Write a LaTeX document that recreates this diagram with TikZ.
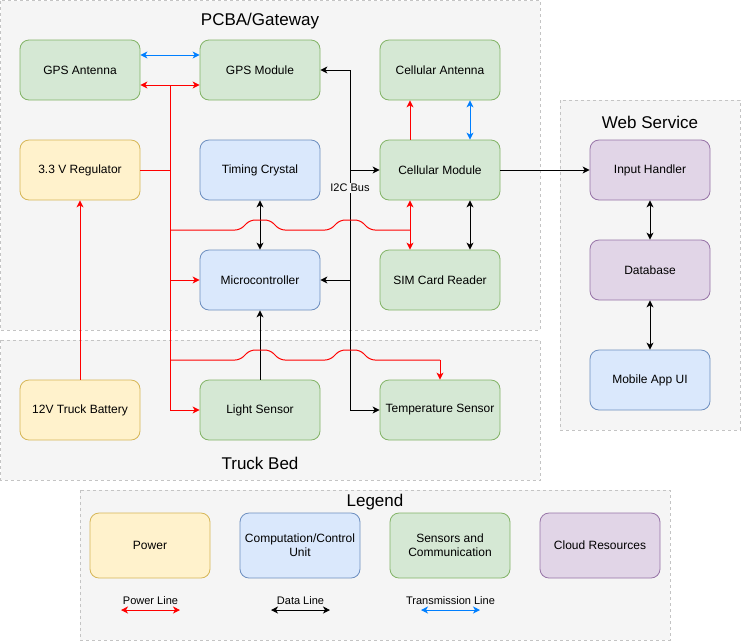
\documentclass[tikz,border=0pt]{standalone}
\usepackage{fontspec}
\setmainfont{Liberation Sans}
\usetikzlibrary{arrows.meta}
\definecolor{gfill}{HTML}{D5E8D4}\definecolor{gline}{HTML}{82B366}
\definecolor{yfill}{HTML}{FFF2CC}\definecolor{yline}{HTML}{D6B656}
\definecolor{bfill}{HTML}{DAE8FC}\definecolor{bline}{HTML}{6C8EBF}
\definecolor{pfill}{HTML}{E1D5E7}\definecolor{pline}{HTML}{9673A6}
\definecolor{cfill}{HTML}{F5F5F5}\definecolor{cline}{HTML}{C4C4C4}
\definecolor{redl}{HTML}{FF0000}\definecolor{bluel}{HTML}{007FFF}
\tikzset{
  tip/.tip={Stealth[length=7pt,width=7pt,inset=2pt]},
  box/.style={draw, rounded corners=9pt, minimum width=120pt, minimum height=60pt,
    line width=0.8pt, align=center, font=\fontsize{12}{14}\selectfont, inner sep=2pt},
  gbox/.style={box, fill=gfill, draw=gline},
  ybox/.style={box, fill=yfill, draw=yline},
  bbox/.style={box, fill=bfill, draw=bline},
  pbox/.style={box, fill=pfill, draw=pline},
  container/.style={fill=cfill, draw=cline, dash pattern=on 3pt off 3pt, line width=0.8pt},
  title/.style={font=\fontsize{17}{20}\selectfont, inner sep=0pt},
  pwr/.style={draw=redl, line width=1pt},
  dat/.style={draw=black, line width=1pt},
  trn/.style={draw=bluel, line width=1pt},
  small/.style={font=\fontsize{11}{13}\selectfont, inner sep=1pt},
}
\begin{document}
\begin{tikzpicture}[x=1pt,y=-1pt]
\useasboundingbox (0,0) rectangle (741,641);
% containers
\draw[container] (0.5,0.5) rectangle (540,330);
\draw[container] (0.5,340) rectangle (540,480);
\draw[container] (560,100) rectangle (740,430);
\draw[container] (80,490) rectangle (670,640);
\node[title] (tpcba) at (260,21.5) {PCBA/Gateway};
\node[title] (ttruck) at (260,463) {Truck Bed};
\node[title] (tweb) at (650,122) {Web Service};
\node[title] (tleg) at (375,502) {Legend};
% nodes
\node[gbox] (gpsant) at (80,70) {GPS Antenna};
\node[gbox] (gpsmod) at (260,70) {GPS Module};
\node[gbox] (cellant) at (440,70) {Cellular Antenna};
\node[ybox] (reg) at (80,170) {3.3 V Regulator};
\node[bbox] (crystal) at (260,170) {Timing Crystal};
\node[gbox] (cellmod) at (440,170) {Cellular Module};
\node[bbox] (mcu) at (260,280) {Microcontroller};
\node[gbox] (sim) at (440,280) {SIM Card Reader};
\node[ybox] (batt) at (80,410) {12V Truck Battery};
\node[gbox] (light) at (260,410) {Light Sensor};
\node[gbox] (temp) at (440,410) {Temperature Sensor};
\node[pbox] (input) at (650,170) {Input Handler};
\node[pbox] (db) at (650,270) {Database};
\node[bbox] (app) at (650,380) {Mobile App UI};
% legend boxes
\node[ybox, minimum height=65pt] (lpow) at (150,545.5) {Power};
\node[bbox, minimum height=65pt] (lcomp) at (300,545.5) {Computation/Control\\Unit};
\node[gbox, minimum height=65pt] (lsens) at (450,545.5) {Sensors and\\Communication};
\node[pbox, minimum height=65pt] (lcloud) at (600,545.5) {Cloud Resources};
% black data lines
\coordinate (i2ctop) at (350,70);
\coordinate (i2cbot) at (350,410);
\draw[dat] (i2ctop) -- (i2cbot);
\draw[dat,-tip] (i2ctop) -- (gpsmod.east);
\draw[dat,-tip] (i2cbot) -- (temp.west);
\draw[dat,-tip] (mcu.east -| i2ctop) -- (mcu.east);
\draw[dat,-tip] (cellmod.west -| i2ctop) -- (cellmod.west);
\node[small, fill=cfill] (i2clab) at (350,188) {I2C Bus};
\draw[dat,tip-tip] (crystal.south) -- (mcu.north);
\draw[dat,-tip] (light.north) -- (mcu.south);
\draw[dat,tip-tip] ([xshift=30pt]cellmod.south) -- ([xshift=30pt]sim.north);
\draw[dat,-tip] (cellmod.east) -- (input.west);
\draw[dat,tip-tip] (input.south) -- (db.north);
\draw[dat,tip-tip] (db.south) -- (app.north);
% transmission lines
\draw[trn,tip-tip] ([yshift=15pt]gpsant.east) -- ([yshift=15pt]gpsmod.west);
\draw[trn,tip-tip] ([xshift=30pt]cellant.south) -- ([xshift=30pt]cellmod.north);
% power lines
\coordinate (rb) at (170,85);
\draw[pwr,tip-tip] (gpsant.east |- rb) -- (gpsmod.west |- rb);
\draw[pwr,-tip] (rb) |- (light.west);
\draw[pwr] (reg.east) -- (reg.east -| rb);
\draw[pwr,-tip] (mcu.west -| rb) -- (mcu.west);
\draw[pwr,-tip] (batt.north) -- (reg.south);
\draw[pwr,-tip] ([xshift=-30pt]cellmod.north) -- ([xshift=-30pt]cellant.south);
\coordinate (b1) at (410,230);
\draw[pwr, rounded corners=5pt] (170,230) -- (240,230) -- (250,220) -- (270,220) -- (280,230)
  -- (330,230) -- (340,220) -- (360,220) -- (370,230) -- (b1);
\draw[pwr,-tip] (b1) -- ([xshift=-30pt]cellmod.south);
\draw[pwr,-tip] (b1) -- ([xshift=-30pt]sim.north);
\coordinate (b2) at (440,360);
\draw[pwr, rounded corners=5pt] (170,360) -- (240,360) -- (250,350) -- (270,350) -- (280,360)
  -- (330,360) -- (340,350) -- (360,350) -- (370,360) -- (b2);
\draw[pwr,-tip] (b2) -- (temp.north);
% legend lines
\coordinate (lp1) at (121,610); \coordinate (lp2) at (180,610);
\coordinate (ld1) at (271,610); \coordinate (ld2) at (330,610);
\coordinate (lt1) at (421,610); \coordinate (lt2) at (480,610);
\draw[pwr,tip-tip] (lp1) -- (lp2);
\draw[dat,tip-tip] (ld1) -- (ld2);
\draw[trn,tip-tip] (lt1) -- (lt2);
\node[small] (lpl) at (150.5,601) {Power Line};
\node[small] (ldl) at (300.5,601) {Data Line};
\node[small] (ltl) at (450.5,601) {Transmission Line};
\end{tikzpicture}
\end{document}
